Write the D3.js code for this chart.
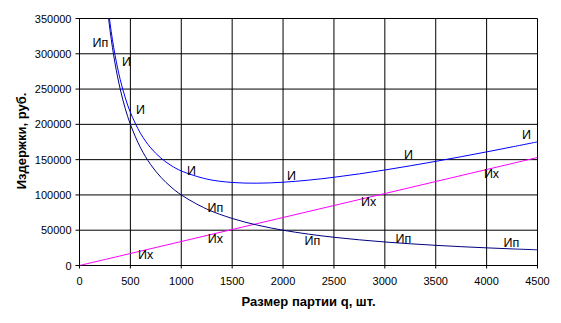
<!DOCTYPE html>
<html><head><meta charset="utf-8">
<script src="https://cdn.jsdelivr.net/npm/d3@7"></script>
<style>
body{margin:0;background:#fff;}
text{font-family:"Liberation Sans",Arial,sans-serif;}
</style></head>
<body><svg id="c" width="561" height="323"></svg>
<script>
// Data
const qVals   = [200, 250, 300, 350, 400, 450, 500, 600, 700, 800, 900, 1000, 1250, 1500, 1750, 2000, 2250, 2500, 2750, 3000, 3250, 3500, 3750, 4000, 4250, 4500];
const orderCost = [500000, 400000, 333333, 285714, 250000, 222222, 200000, 166667, 142857, 125000, 111111, 100000, 80000, 66667, 57143, 50000, 44444, 40000, 36364, 33333, 30769, 28571, 26667, 25000, 23529, 22222];
const totalCost = [506800, 408500, 343533, 297614, 263600, 237522, 217000, 187067, 166657, 152200, 141711, 134000, 122500, 117667, 116643, 118000, 120944, 125000, 129864, 135333, 141269, 147571, 154167, 161000, 168029, 175222];
const qHold   = [0, 500, 1000, 1500, 2000, 2500, 3000, 3500, 4000, 4500];
const holdCost = [0, 17000, 34000, 51000, 68000, 85000, 102000, 119000, 136000, 153000];
const xTicks = [0, 500, 1000, 1500, 2000, 2500, 3000, 3500, 4000, 4500];
const yTicks = [0, 50000, 100000, 150000, 200000, 250000, 300000, 350000];
// series name labels placed at data coordinates
const labelsTotal = [[462, 289600], [599, 221600], [1100, 135200], [2083, 128100], [3233, 157900], [4392, 186200]];
const labelsOrder = [[206, 316500], [1336, 82800], [2289, 36100], [3183, 38900], [4244, 31900]];
const labelsHold  = [[649, 14900], [1336, 38900], [2840, 91300], [4048, 131000]];

const svg = d3.select("#c");
const L = 79.5, R = 537.5, T = 18.5, B = 265.5;
const x = d3.scaleLinear().domain([0, 4500]).range([L, R]);
const y = d3.scaleLinear().domain([0, 350000]).range([B, T]);

// gridlines
const g = svg.append("g");
g.selectAll(".vg").data(xTicks).join("line")
  .attr("x1", d => x(d)).attr("x2", d => x(d)).attr("y1", T).attr("y2", B + 3)
  .attr("stroke", "#000").attr("stroke-width", 1);
g.selectAll(".hg").data(yTicks).join("line")
  .attr("x1", L - 4).attr("x2", R).attr("y1", d => y(d)).attr("y2", d => y(d))
  .attr("stroke", "#000").attr("stroke-width", 1);

// tick labels
svg.append("g").selectAll("text").data(xTicks).join("text")
  .attr("x", d => x(d)).attr("y", B + 19).attr("text-anchor", "middle")
  .attr("font-size", "11px").attr("fill", "#000").text(d => d);
svg.append("g").selectAll("text").data(yTicks).join("text")
  .attr("x", L - 8).attr("y", d => y(d) + 4).attr("text-anchor", "end")
  .attr("font-size", "11px").attr("fill", "#000").text(d => d);

// axis titles
svg.append("text").attr("x", (L + R) / 2).attr("y", 306).attr("text-anchor", "middle")
  .attr("font-size", "13px").attr("font-weight", "bold").text("Размер партии q, шт.");
svg.append("text").attr("transform", "translate(26," + ((T + B) / 2 - 1) + ") rotate(-90)")
  .attr("text-anchor", "middle").attr("font-size", "13px").attr("font-weight", "bold")
  .text("Издержки, руб.");

// clip
svg.append("clipPath").attr("id", "clip").append("rect")
  .attr("x", L).attr("y", T).attr("width", R - L).attr("height", B - T);
const plot = svg.append("g").attr("clip-path", "url(#clip)");
const curve = d3.curveCatmullRom.alpha(0.5);
const line = d3.line().x(d => x(d[0])).y(d => y(d[1])).curve(curve);

plot.append("path").datum(qHold.map((q, i) => [q, holdCost[i]]))
  .attr("d", line).attr("fill", "none").attr("stroke", "#ff00ff").attr("stroke-width", 1);
plot.append("path").datum(qVals.map((q, i) => [q, orderCost[i]]))
  .attr("d", line).attr("fill", "none").attr("stroke", "#000080").attr("stroke-width", 1);
plot.append("path").datum(qVals.map((q, i) => [q, totalCost[i]]))
  .attr("d", line).attr("fill", "none").attr("stroke", "#0000ff").attr("stroke-width", 1);

// labels
function addLabels(arr, txt) {
  svg.append("g").selectAll("text").data(arr).join("text")
    .attr("x", d => x(d[0])).attr("y", d => y(d[1]) + 4.5)
    .attr("text-anchor", "middle").attr("font-size", "12.5px").attr("fill", "#000").text(txt);
}
addLabels(labelsTotal, "И");
addLabels(labelsOrder, "Ип");
addLabels(labelsHold, "Их");
</script></body></html>
